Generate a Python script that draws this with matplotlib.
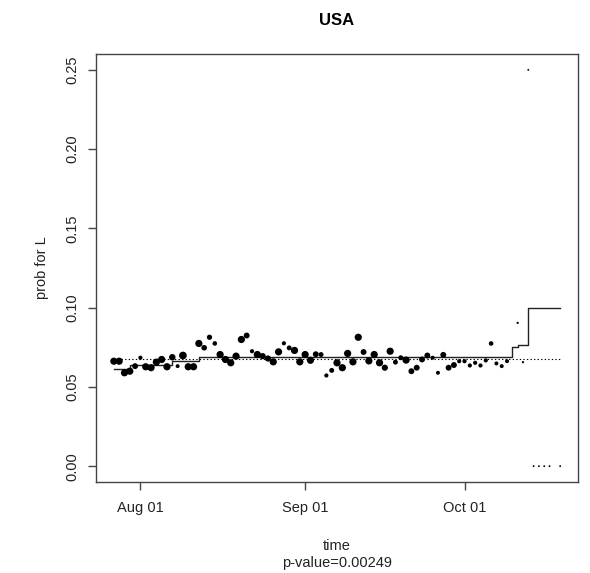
import numpy as np
import pandas as pd
import matplotlib
matplotlib.use("Agg")
import matplotlib.pyplot as plt
import matplotlib.dates as mdates

plt.rcParams['font.family'] = ['Liberation Sans', 'DejaVu Sans']

# daily share of L, one value per day (NaN = no observation)
days = pd.date_range("2020-07-27", "2020-10-19", freq="D")
prob_L = [
    0.0662, 0.0662, 0.0589, 0.0599, 0.0631, 0.0684, 0.0627, 0.0621, 0.0656, 0.0673,
    0.0627, 0.0687, 0.0631, 0.0698, 0.0627, 0.0627, 0.0774, 0.0747, 0.0813, 0.0774,
    0.0704, 0.0673, 0.0652, 0.0694, 0.0799, 0.0824, 0.0725, 0.0704, 0.0694, 0.0679,
    0.0658, 0.0721, 0.0775, 0.0746, 0.0730, 0.0658, 0.0704, 0.0668, 0.0706, 0.0704,
    0.0572, 0.0604, 0.0652, 0.0621, 0.0711, 0.0658, 0.0813, 0.0720, 0.0664, 0.0704,
    0.0652, 0.0621, 0.0725, 0.0656, 0.0684, 0.0669, 0.0599, 0.0621, 0.0673, 0.0698,
    0.0684, 0.0589, 0.0702, 0.0621, 0.0638, 0.0662, 0.0662, 0.0635, 0.0652, 0.0635,
    0.0667, 0.0774, 0.0648, 0.0631, 0.0662, np.nan, 0.0904, 0.0656, 0.2500, 0.0,
    0.0, 0.0, 0.0, np.nan, 0.0,
]
# daily number of observations (drives the dot size)
n_obs = [
    30, 30, 30, 30, 20, 10, 30, 30, 30, 30,
    30, 24, 9, 34, 30, 30, 30, 18, 16, 12,
    30, 30, 30, 30, 30, 20, 10, 30, 22, 22,
    30, 30, 10, 14, 30, 30, 30, 30, 20, 14,
    10, 14, 30, 30, 30, 30, 30, 20, 30, 30,
    30, 22, 30, 14, 14, 30, 20, 20, 20, 20,
    9, 9, 20, 20, 20, 10, 10, 10, 10, 10,
    10, 12, 9, 9, 9, 0, 3, 3, 2, 2,
    2, 2, 2, 0, 2,
]

# fitted level of the step model and overall mean
step_dates = pd.to_datetime(["2020-07-27", "2020-07-30", "2020-08-07", "2020-08-12",
                             "2020-10-10", "2020-10-11", "2020-10-13", "2020-10-19"])
step_values = [0.0616, 0.0635, 0.0662, 0.0687, 0.0750, 0.0763, 0.1000, 0.1000]
overall_mean = 0.0673
p_value = 0.00249

fig = plt.figure(figsize=(5.9, 5.73), dpi=100)
ax = fig.add_axes([0.1627, 0.1588, 0.8170, 0.7470])

sizes = (1.32 * np.sqrt(np.array(n_obs, dtype=float)) * 0.72) ** 2
ax.scatter(days, prob_L, s=sizes, color='black', linewidths=0, zorder=3)

ax.plot(step_dates, step_values, drawstyle='steps-post', color='#222222', lw=1.0, zorder=2)
ax.plot([days[0], days[-1]], [overall_mean, overall_mean], color='black',
        lw=0.8, linestyle=(0, (1.2, 2.0)), zorder=2)

span = (days[-1] - days[0]) * 0.04
ax.set_xlim(days[0] - span, days[-1] + span)
ax.set_ylim(-0.01, 0.26)

ax.set_yticks([0.0, 0.05, 0.10, 0.15, 0.20, 0.25])
ax.set_yticklabels(['0.00', '0.05', '0.10', '0.15', '0.20', '0.25'],
                   rotation=90, va='center')
ax.xaxis.set_major_locator(mdates.MonthLocator(bymonth=[8, 9, 10]))
ax.xaxis.set_major_formatter(mdates.DateFormatter('%b %d'))

for sp in ax.spines.values():
    sp.set_color('#444444')
    sp.set_linewidth(1.0)
ax.tick_params(axis='both', direction='out', length=6, width=1.0, color='#444444',
               labelsize=10.5, labelcolor='#222222')
ax.tick_params(axis='x', pad=8)
ax.tick_params(axis='y', pad=6)

ax.set_ylabel('prob for L', fontsize=10.5, labelpad=12, color='#222222')
ax.set_xlabel('time\np-value=%.5f' % p_value, fontsize=10.5, labelpad=17,
              color='#222222', linespacing=1.3)
ax.set_title('USA', fontsize=12, fontweight='bold', pad=21)

fig.savefig('out.png', dpi=100)
